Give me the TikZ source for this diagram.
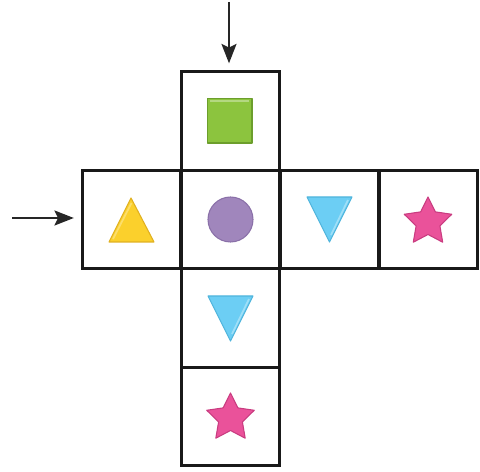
\documentclass[tikz,border=0pt]{standalone}
\usetikzlibrary{arrows.meta}
\definecolor{sqgreen}{HTML}{8CC43E}
\definecolor{sqgreenD}{HTML}{6C9E2C}
\definecolor{triyel}{HTML}{FBD02C}
\definecolor{triyelD}{HTML}{E0B020}
\definecolor{cirpur}{HTML}{A086BC}
\definecolor{cirpurD}{HTML}{8A70A8}
\definecolor{triblu}{HTML}{6CCEF4}
\definecolor{tribluD}{HTML}{4FB4DC}
\definecolor{starpink}{HTML}{EA529A}
\definecolor{starpinkD}{HTML}{C93C80}
\begin{document}
\begin{tikzpicture}[x=0.02cm,y=-0.02cm,
  cell/.style={draw=black!90, line width=1.6pt, minimum size=1.97cm, inner sep=0pt},
  inarrow/.style={draw=black!85, line width=1.4pt, -{Stealth[length=11pt,width=8.5pt,inset=2pt]}},
  shapeline/.style={line width=0.6pt, line join=round}]
\useasboundingbox (0,0) rectangle (480,472);
% cells
\node[cell] (top) at (230.5,121) {};
\node[cell] (left) at (131.5,219.5) {};
\node[cell] (mid) at (230.5,219.5) {};
\node[cell] (right) at (329.5,219.5) {};
\node[cell] (far) at (428.5,219.5) {};
\node[cell] (down) at (230.5,318) {};
\node[cell] (bottom) at (230.5,416.5) {};
% arrows
\coordinate (topstart) at (229,2);
\coordinate (leftstart) at (12,218);
\draw[inarrow, shorten >=4pt] (topstart) -- (topstart |- top.north);
\draw[inarrow, shorten >=4pt] (leftstart) -- (leftstart -| left.west);
% green square
\fill[sqgreen, draw=sqgreenD, shapeline] (207.5,98.5) rectangle (252,143);
\draw[white, opacity=0.35, line width=1pt] (210,101) -- (249,101);
% yellow triangle
\fill[triyel, draw=triyelD, shapeline] (131,198) -- (154,242) -- (109,242) -- cycle;
\draw[white, opacity=0.3, line width=1pt] (131.5,203) -- (113,239);
% purple circle
\fill[cirpur, draw=cirpurD, shapeline] (230.5,219.5) circle (22.5);
% blue triangles
\fill[triblu, draw=tribluD, shapeline] (307,197) -- (352,197) -- (329.5,242) -- cycle;
\draw[white, opacity=0.35, line width=1pt] (348,200) -- (331,235);
\fill[triblu, draw=tribluD, shapeline] (208,296) -- (253,296) -- (230.5,341) -- cycle;
\draw[white, opacity=0.35, line width=1pt] (249,299) -- (232,334);
% pink stars
\fill[starpink, draw=starpinkD, shapeline] (428,197)
  \foreach \a in {1,...,9} {
    -- ({428+ifthenelse(mod(\a,2)==0,25,12.5)*sin(\a*36)}, {222-ifthenelse(mod(\a,2)==0,25,12.5)*cos(\a*36)})
  } -- cycle;
\fill[starpink, draw=starpinkD, shapeline] (230.5,393)
  \foreach \a in {1,...,9} {
    -- ({230.5+ifthenelse(mod(\a,2)==0,25,12.5)*sin(\a*36)}, {418-ifthenelse(mod(\a,2)==0,25,12.5)*cos(\a*36)})
  } -- cycle;
\end{tikzpicture}
\end{document}
